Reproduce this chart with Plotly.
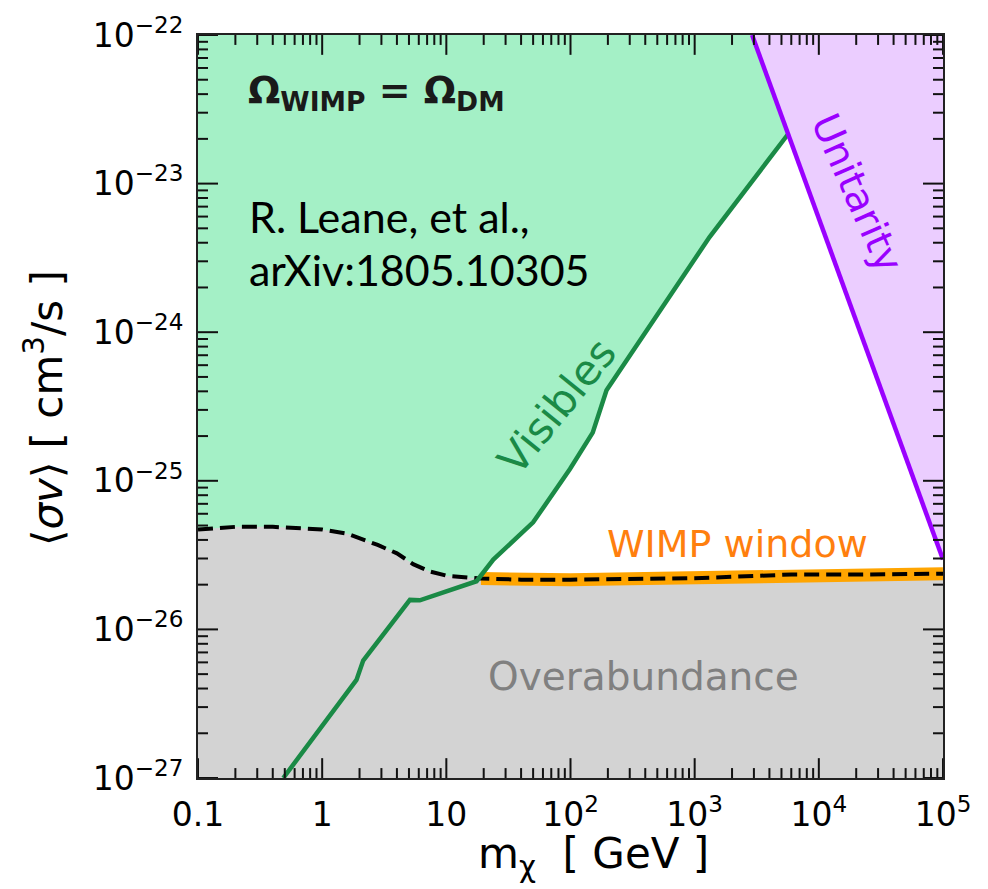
import plotly.graph_objects as go

# ---------------- data ----------------
# Thermal relic line  Omega_WIMP = Omega_DM
relic_m = [0.1, 0.2, 0.4, 1.0, 1.6, 2.8, 4.0, 5.4, 7.4, 10, 19, 40, 100, 300, 1000, 3000, 6000, 2e4, 1e5]
relic_sv = [4.7e-26, 4.9e-26, 4.9e-26, 4.7e-26, 4.4e-26, 3.7e-26, 3.25e-26, 2.75e-26, 2.45e-26,
            2.3e-26, 2.2e-26, 2.16e-26, 2.16e-26, 2.19e-26, 2.21e-26, 2.29e-26, 2.34e-26, 2.34e-26, 2.37e-26]

# "Visibles" bound
vis_m = [0.486, 1.89, 2.14, 5.09, 6.12, 17.5, 23.9, 50, 99, 151, 195, 1318, 5623]
vis_sv = [1.0e-27, 4.57e-27, 6.17e-27, 1.58e-26, 1.57e-26, 2.11e-26, 2.95e-26, 5.25e-26,
          1.2e-25, 2.11e-25, 4.07e-25, 4.37e-24, 2.14e-23]

# Unitarity bound
unit_m = [2900, 1e5]
unit_sv = [1e-22, 2.95e-26]

# WIMP window starts where the relic line crosses the Visibles bound
window_lo = 17.5

# axis ranges and ticks
x_min, x_max = 0.1, 1e5
y_min, y_max = 1e-27, 1e-22
x_tickvals = [0.1, 1, 10, 100, 1000, 1e4, 1e5]
x_ticktext = ["0.1", "1", "10", "10<sup>2</sup>", "10<sup>3</sup>", "10<sup>4</sup>", "10<sup>5</sup>"]
y_tickvals = [1e-27, 1e-26, 1e-25, 1e-24, 1e-23, 1e-22]
y_ticktext = ["10<sup>\u221227</sup>", "10<sup>\u221226</sup>", "10<sup>\u221225</sup>",
              "10<sup>\u221224</sup>", "10<sup>\u221223</sup>", "10<sup>\u221222</sup>"]

# ---------------- styles ----------------
GREEN_FILL = "#a4f0c6"
GRAY_FILL = "#d3d3d3"
PURPLE_FILL = "#ebcdff"
VIS_COLOR = "#1a8a46"
UNIT_COLOR = "#9a00ff"
ORANGE = "#ffa500"
ORANGE_TXT = "#ff7f0e"
TICK = "#111111"
FONT = "DejaVu Sans"

L, R, T, B = 198, 45, 29, 111
W, H = 988, 889
pw, ph = W - L - R, H - T - B
X_DEC, Y_DEC = 6, 5            # decades shown on each axis
px_per_dec_x = pw / X_DEC
px_per_dec_y = ph / Y_DEC

fig = go.Figure()

gx = [x_min, unit_m[0]] + vis_m[::-1] + [x_min]
gy = [y_max, unit_sv[0]] + vis_sv[::-1] + [vis_sv[0]]
fig.add_trace(go.Scatter(x=gx, y=gy, mode="lines", fill="toself", fillcolor=GREEN_FILL,
                         line=dict(width=0), hoverinfo="skip", showlegend=False))

pxs = [unit_m[0], x_max, unit_m[1]]
pys = [unit_sv[0], y_max, unit_sv[1]]
fig.add_trace(go.Scatter(x=pxs, y=pys, mode="lines", fill="toself", fillcolor=PURPLE_FILL,
                         line=dict(width=0), hoverinfo="skip", showlegend=False))

y_floor = y_min / 10
fig.add_trace(go.Scatter(x=relic_m + [x_max, x_min], y=relic_sv + [y_floor, y_floor], mode="lines",
                         fill="toself", fillcolor=GRAY_FILL, line=dict(width=0),
                         hoverinfo="skip", showlegend=False))

wm = [m for m in relic_m if m >= window_lo]
ws = [s for m, s in zip(relic_m, relic_sv) if m >= window_lo]
fig.add_trace(go.Scatter(x=wm, y=ws, mode="lines", line=dict(color=ORANGE, width=13),
                         hoverinfo="skip", showlegend=False))

fig.add_trace(go.Scatter(x=relic_m, y=relic_sv, mode="lines",
                         line=dict(color="black", width=4, dash="15px,7px"),
                         hoverinfo="skip", showlegend=False))

fig.add_trace(go.Scatter(x=vis_m, y=vis_sv, mode="lines", line=dict(color=VIS_COLOR, width=4.5),
                         hoverinfo="skip", showlegend=False))

fig.add_trace(go.Scatter(x=unit_m, y=unit_sv, mode="lines", line=dict(color=UNIT_COLOR, width=4.5),
                         hoverinfo="skip", showlegend=False))

# ---- inside ticks on all four sides (segments with pixel lengths) ----
x_minor = [k * 10.0 ** e for e in range(-1, 5) for k in range(2, 10)]
y_minor = [k * 10.0 ** e for e in range(-27, -22) for k in range(2, 10)]
tx, ty = [], []
for vals, ln in ((x_tickvals, 20), (x_minor, 10)):
    f = 10 ** (ln / px_per_dec_y)
    for v in vals:
        tx += [v, v, None, v, v, None]
        ty += [y_min, y_min * f, None, y_max, y_max / f, None]
for vals, ln in ((y_tickvals, 20), (y_minor, 10)):
    f = 10 ** (ln / px_per_dec_x)
    for v in vals:
        tx += [x_min, x_min * f, None, x_max, x_max / f, None]
        ty += [v, v, None, v, v, None]
fig.add_trace(go.Scatter(x=tx, y=ty, mode="lines", line=dict(color=TICK, width=2),
                         hoverinfo="skip", showlegend=False, connectgaps=False))

axis_common = dict(type="log", showgrid=False, zeroline=False, showline=True, linecolor="#222",
                   linewidth=2, mirror=True, ticks="", tickmode="array",
                   tickfont=dict(family=FONT, size=33, color="black"))

fig.update_xaxes(**axis_common, range=[-1, 5], tickvals=x_tickvals, ticktext=x_ticktext,
                 ticklabelstandoff=6)
fig.update_yaxes(**axis_common, range=[-27, -22], tickvals=y_tickvals, ticktext=y_ticktext,
                 ticklabelstandoff=6)


def px(x):
    return (x - L) / pw


def py(y):
    return (H - B - y) / ph


ann = [
    dict(text="<b>\u03a9<sub>WIMP</sub> = \u03a9<sub>DM</sub></b>", x=px(246), y=py(87),
         xanchor="left", yanchor="middle", font=dict(family=FONT, size=38, color="#1a1a1a")),
    dict(text="R. Leane, et al.,", x=px(247), y=py(212), xanchor="left", yanchor="middle",
         font=dict(family="Lato", size=43, color="black")),
    dict(text="arXiv:1805.10305", x=px(247), y=py(265), xanchor="left", yanchor="middle",
         font=dict(family="Lato", size=43, color="black")),
    dict(text="Visibles", x=px(557), y=py(404), textangle=-51, xanchor="center", yanchor="middle",
         font=dict(family=FONT, size=42, color=VIS_COLOR)),
    dict(text="Unitarity", x=px(857), y=py(188), textangle=66, xanchor="center", yanchor="middle",
         font=dict(family=FONT, size=39, color=UNIT_COLOR)),
    dict(text="WIMP window", x=px(737), y=py(542), xanchor="center", yanchor="middle",
         font=dict(family=FONT, size=38, color=ORANGE_TXT)),
    dict(text="Overabundance", x=px(643), y=py(676), xanchor="center", yanchor="middle",
         font=dict(family=FONT, size=39, color="#808080")),
    dict(text="m<sub>\u03c7</sub>  [ GeV ]", x=px(593), y=py(857), xanchor="center", yanchor="middle",
         font=dict(family=FONT, size=42, color="black")),
    dict(text="\u27e8<i>\u03c3v</i>\u27e9 [ cm<sup>3</sup>/s ]", x=px(45), y=py(405), textangle=-90,
         xanchor="center", yanchor="middle", font=dict(family=FONT, size=42, color="black")),
]
for a in ann:
    a.update(xref="paper", yref="paper", showarrow=False)

fig.update_layout(width=W, height=H, margin=dict(l=L, r=R, t=T, b=B),
                  paper_bgcolor="white", plot_bgcolor="white", annotations=ann,
                  showlegend=False)

fig.write_html("out.html")
